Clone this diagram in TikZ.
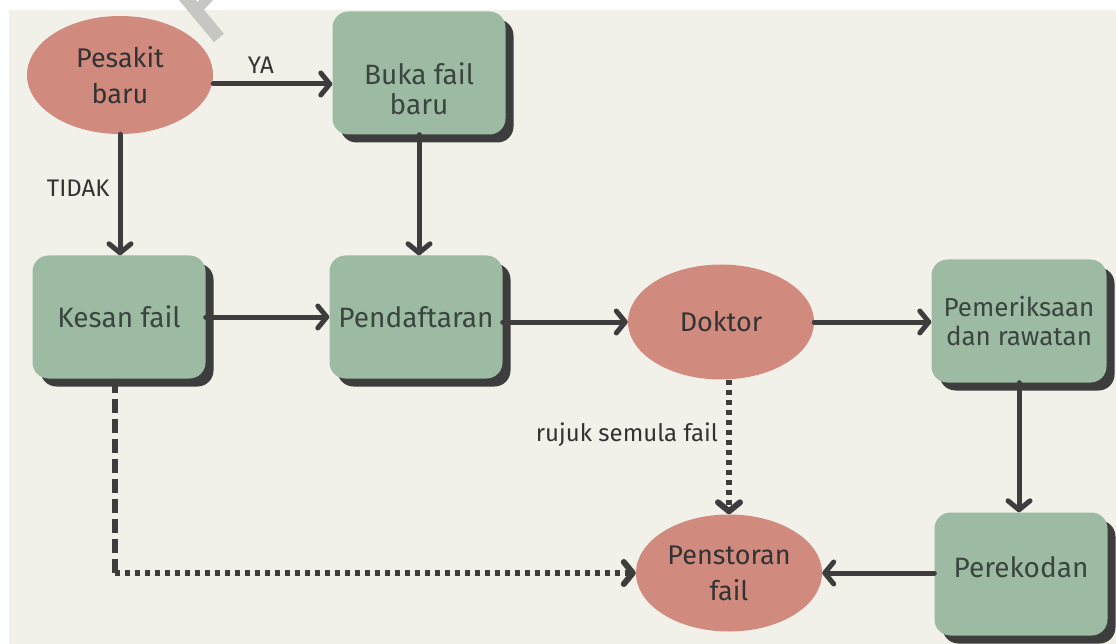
\documentclass[tikz,border=0pt]{standalone}
\usepackage{fontspec}
\setmainfont{Fira Sans}
\usetikzlibrary{arrows.meta,shapes.geometric,shadows}
\definecolor{bgbeige}{HTML}{F1F1E9}
\definecolor{salmon}{HTML}{D08A7E}
\definecolor{sage}{HTML}{9DBAA2}
\definecolor{darkline}{HTML}{3D3D3D}
\definecolor{boxtext}{HTML}{3A4540}
\definecolor{marktext}{HTML}{333333}
\definecolor{wmgrey}{HTML}{C6C6C2}

\begin{document}
\begin{tikzpicture}[x=1pt,y=-1pt,line join=round,>={Straight Barb[length=9pt,width=22pt,round]}]

		\tikzset{
			oval/.style={ellipse,fill=salmon,text=marktext,minimum width=186pt,minimum height=118pt,inner sep=0pt,align=center,font=\fontsize{27}{36}\selectfont},
			card/.style={rectangle,rounded corners=16pt,fill=sage,text=boxtext,minimum width=173pt,minimum height=123pt,inner sep=0pt,align=center,font=\fontsize{28}{30}\selectfont,drop shadow={shadow xshift=8pt,shadow yshift=-8pt,opacity=1,fill=darkline}},
			flow/.style={draw=darkline,line width=5pt,line cap=round,->},
			dotline/.style={draw=darkline,line width=6pt,dash pattern=on 5pt off 5pt,->},
			dashline/.style={draw=darkline,line width=6pt,dash pattern=on 14pt off 6pt},
			tag/.style={text=marktext,inner sep=0pt,font=\fontsize{24}{28}\selectfont}
		}

		\useasboundingbox (0,0) rectangle (1116,644);
		\fill[white] (0,0) rectangle (1116,644);
		\fill[bgbeige] (9,10) rectangle (1116,644);
		\draw[wmgrey,line width=13pt] (184,-4) -- (219,38);
		\draw[wmgrey,line width=10pt] (195,12) -- (210,-4);

		\node[oval] (pesakit) at (120,75) {Pesakit\\baru};
		\node[card] (buka) at (419,73) {\raisebox{-26pt}[0pt][0pt]{\begin{tabular}{@{}c@{}}Buka fail\\baru\end{tabular}}};
		\node[card] (kesan) at (119,317) {Kesan fail};
		\node[card] (daftar) at (416,317) {Pendaftaran};
		\node[oval,minimum height=115pt] (doktor) at (721,322) {Doktor};
		\node[card,minimum width=175pt,font=\fontsize{26}{29}\selectfont] (periksa) at (1019,321) {Pemeriksaan\\dan rawatan};
		\node[card] (rekod) at (1021,574) {\raisebox{-3pt}[0pt][0pt]{Perekodan}};
		\node[oval,minimum height=117pt] (stor) at (729,573) {Penstoran\\fail};

		\draw[flow] ([yshift=-9pt]pesakit.east) -- ([yshift=-9pt]pesakit.east -| buka.west) node[tag,pos=0.4,above=8pt] {YA};
		\draw[flow] (pesakit.south) -- (pesakit.south |- kesan.north) node[tag,pos=0.45,left=8pt] {TIDAK};
		\draw[flow] (buka.south) -- (buka.south |- daftar.north);
		\draw[flow] (kesan.east) -- (daftar.west);
		\draw[flow] (daftar.east |- doktor.west) -- (doktor.west);
		\draw[flow] (doktor.east) -- (doktor.east -| periksa.west);
		\draw[flow] (periksa.south) -- (periksa.south |- rekod.north);
		\draw[flow] (rekod.west |- stor.east) -- (stor.east);
		\draw[dotline] (stor.north |- doktor.south) -- (stor.north) node[tag,pos=0.41,left=8pt] {rujuk semula fail};
		\coordinate (bend) at ([xshift=-4pt]kesan.south |- stor.west);
		\draw[dashline] ([xshift=-4pt]kesan.south) -- (bend);
		\draw[dotline] (bend) -- (stor.west);
		\end{tikzpicture}
\end{document}
